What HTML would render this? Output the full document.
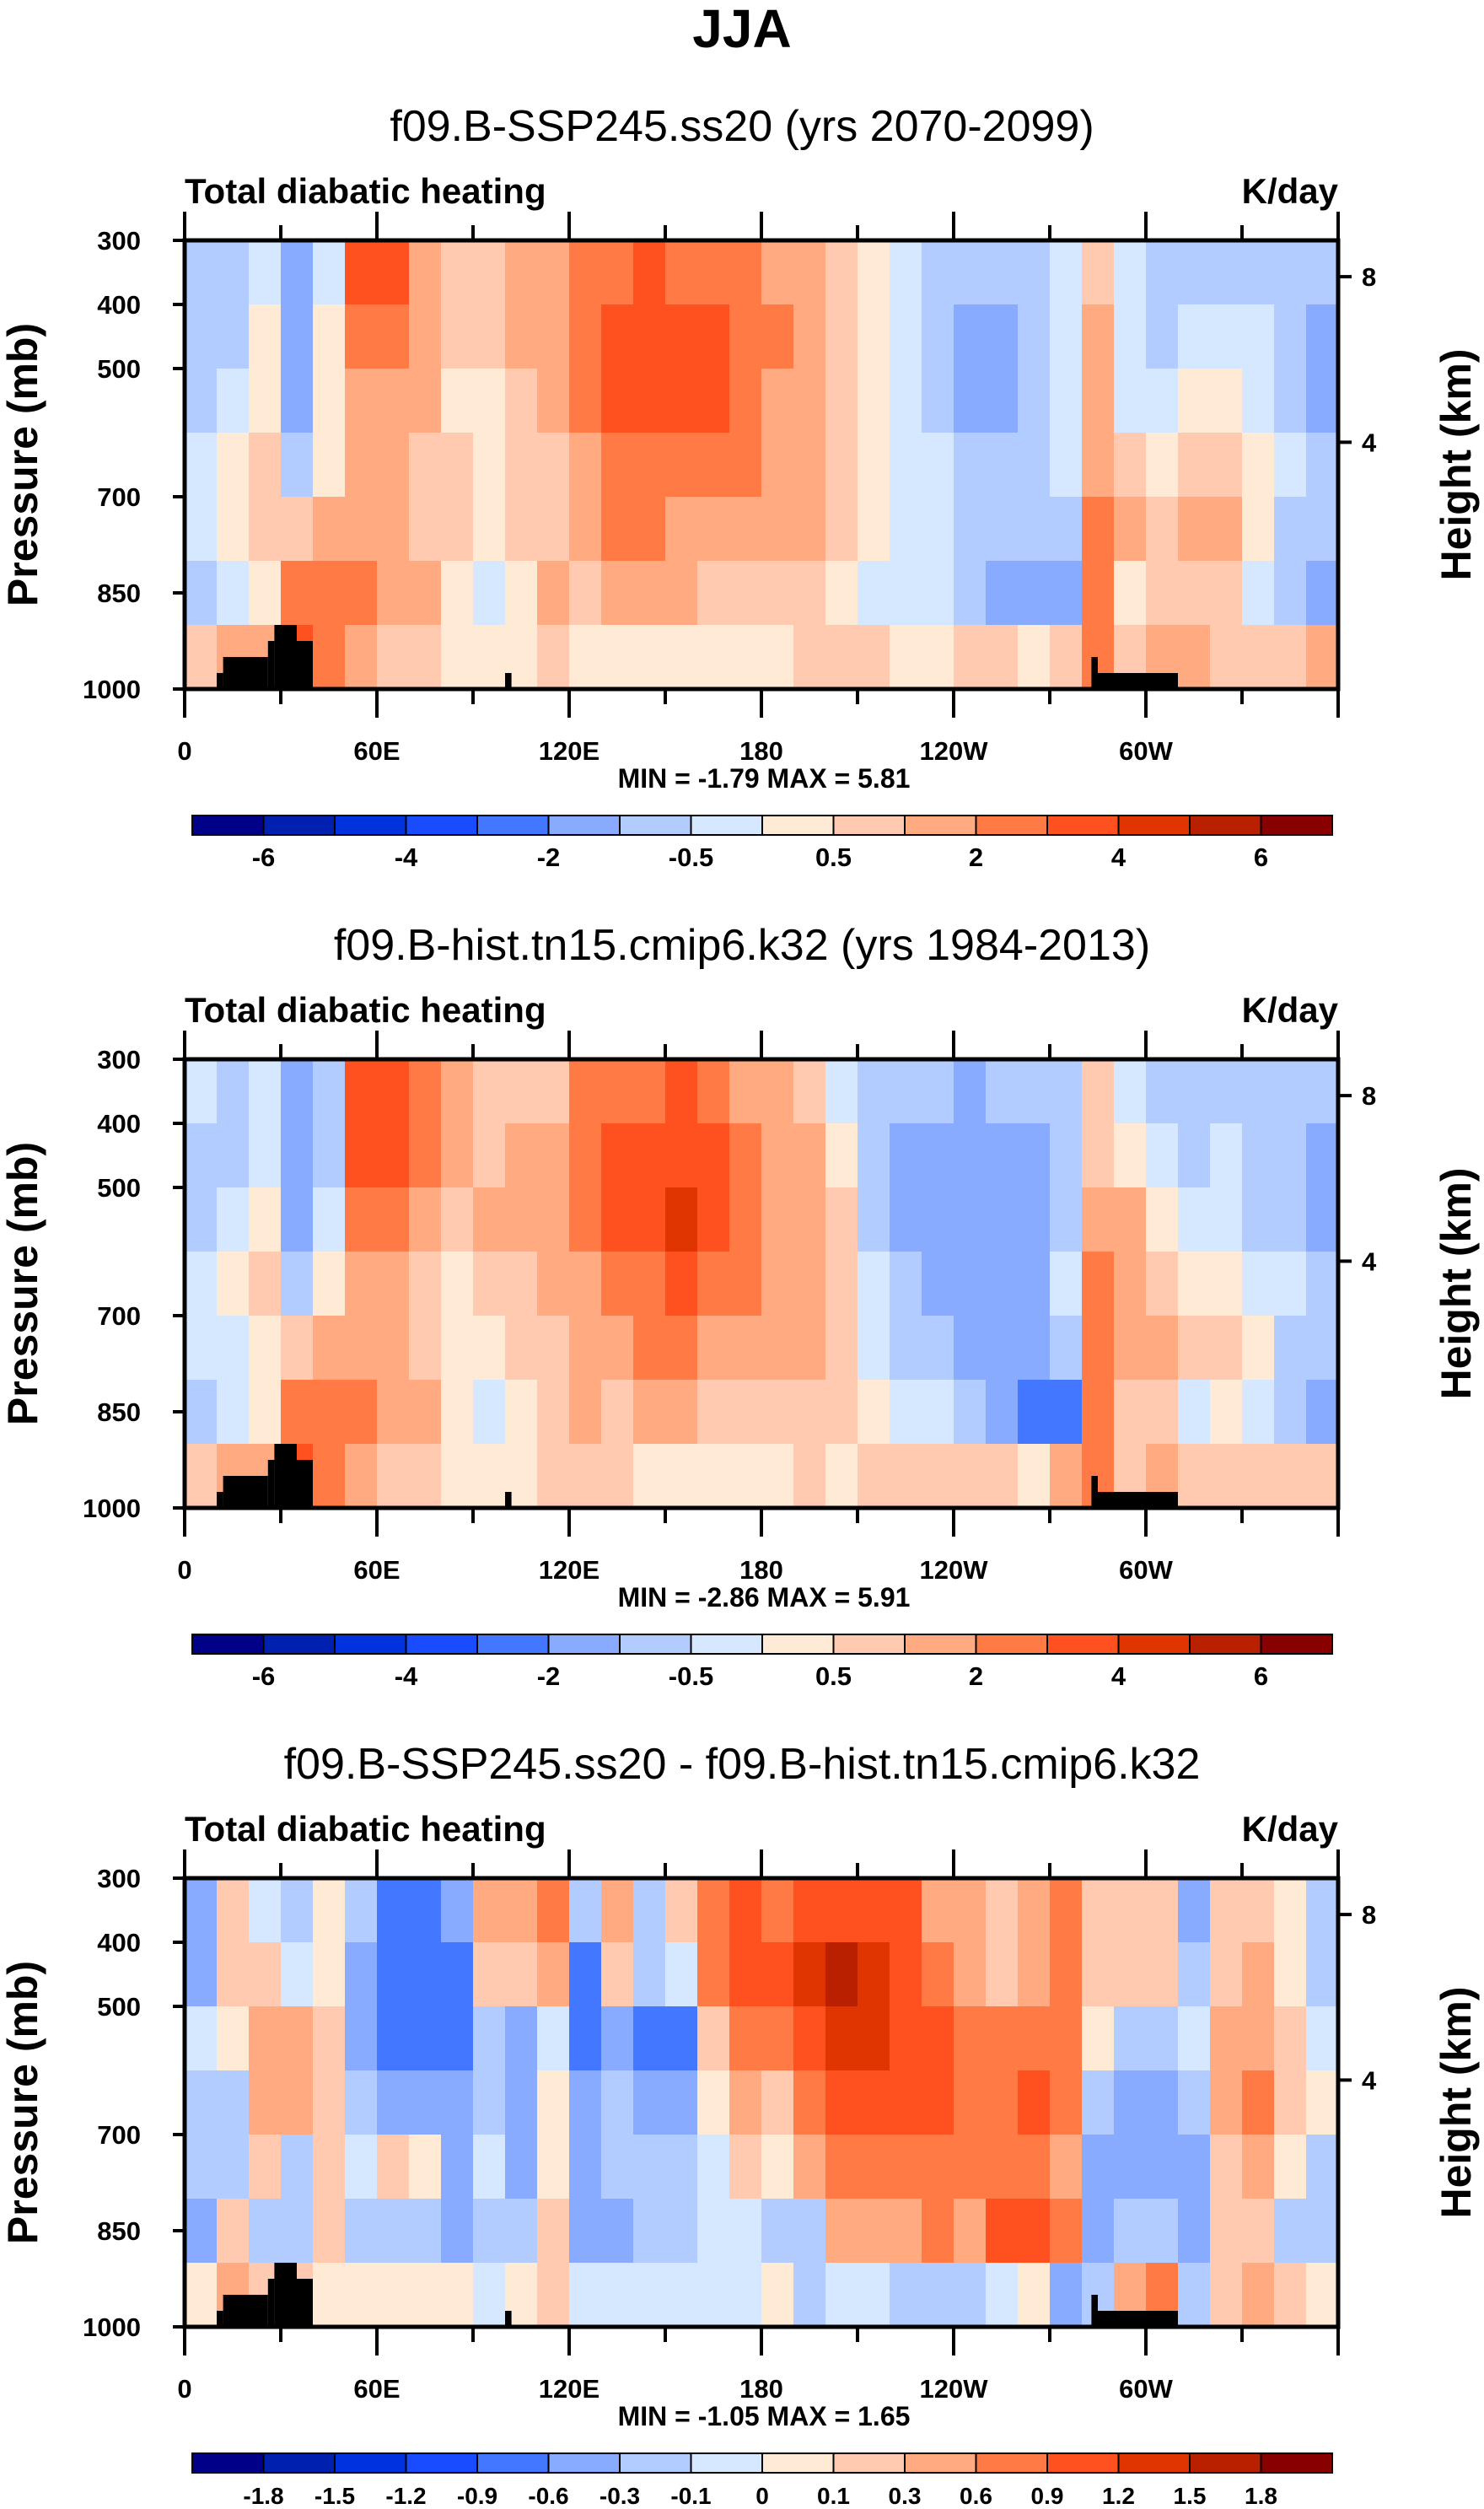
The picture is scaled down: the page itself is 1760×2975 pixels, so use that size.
<!DOCTYPE html>
<html><head><meta charset="utf-8">
<style>
html,body{margin:0;padding:0;background:#fff;}
svg{display:block;font-family:"Liberation Sans",sans-serif;}
</style></head>
<body>
<svg id="fig" width="1760" height="2975" viewBox="0 0 1760 2975" xmlns="http://www.w3.org/2000/svg">
<text x="880" y="56" text-anchor="middle" font-size="64" font-weight="bold">JJA</text>
</svg>
<script>
// ---- data: columns = 10-degree longitude bands (0..360), rows = 100 mb bands (300-400 ... 900-1000)
const lonBands = [5,15,25,35,45,55,65,75,85,95,105,115,125,135,145,155,165,175,185,195,205,215,225,235,245,255,265,275,285,295,305,315,325,335,345,355];
const presBands = [350,450,550,650,750,850,950];
const panelTitles = ["f09.B-SSP245.ss20 (yrs 2070-2099)","f09.B-hist.tn15.cmip6.k32 (yrs 1984-2013)","f09.B-SSP245.ss20 - f09.B-hist.tn15.cmip6.k32"];
const minMax = [["-1.79","5.81"],["-2.86","5.91"],["-1.05","1.65"]];
const xTickLabels = ["0","60E","120E","180","120W","60W"];
const pTicks = [300,400,500,700,850,1000];
const hTicks = [8,4];
const levelsA = [-6,-5,-4,-3,-2,-1,-0.5,0,0.5,1,2,3,4,5,6];
const levelsB = [-1.8,-1.5,-1.2,-0.9,-0.6,-0.3,-0.1,0,0.1,0.3,0.6,0.9,1.2,1.5,1.8];
const cbLabelsA = ["","-6","","-4","","-2","","-0.5","","0.5","","2","","4","","6"];
const cbLabelsB = ["","-1.8","-1.5","-1.2","-0.9","-0.6","-0.3","-0.1","0","0.1","0.3","0.6","0.9","1.2","1.5","1.8"];
const palette = ["#000088","#0021b0","#0033dd","#1a4cff","#4477ff","#88aaff","#b3ccff","#d6e8ff","#ffead6","#ffcab0","#ffaa80","#ff7a44","#ff5020","#e03500","#b82000","#880000"];
const field1 = [
[-0.7,-1,-0.7,-0.3,-0.3,-1,0.7],[-0.7,-0.7,-0.3,0.3,0.3,-0.3,1.5],[-0.3,0.3,0.3,0.7,0.7,0.3,1.5],[-1.5,-1.5,-1.5,-1,0.7,2.5,3],
[-0.3,0.3,0.3,0.3,1.5,2.5,2],[3.5,2.5,1.5,1.5,1.5,2.5,1.5],[3.5,2.5,1.5,1.5,1.5,1.5,0.7],[1.5,1.5,1.5,0.7,0.7,1.5,0.7],
[0.7,0.7,0.3,0.7,0.7,0.3,0.3],[0.7,0.7,0.3,0.3,0.3,-0.3,0.3],[1.5,1.5,0.7,0.7,0.7,0.3,0.3],[1.5,1.5,1.5,0.7,0.7,1.5,0.7],
[2.5,2.5,2.5,1.5,1.5,0.7,0.3],[2.5,3.5,3.5,2.5,2.5,1.5,0.3],[3.5,3.5,3.5,2.5,2.5,1.5,0.3],[2.5,3.5,3.5,2.5,1.5,1.5,0.3],
[2.5,3.5,3.5,2.5,1.5,0.7,0.3],[2.5,2.5,2.5,2.5,1.5,0.7,0.3],[1.5,2.5,1.5,1.5,1.5,0.7,0.3],[1.5,1.5,1.5,1.5,1.5,0.7,0.7],
[0.7,0.7,0.7,0.7,0.7,0.3,0.7],[0.3,0.3,0.3,0.3,0.3,-0.3,0.7],[-0.3,-0.3,-0.3,-0.3,-0.3,-0.3,0.3],[-0.7,-0.7,-0.7,-0.3,-0.3,-0.3,0.3],
[-0.7,-1.5,-1.5,-0.7,-0.7,-0.7,0.7],[-0.7,-1.5,-1.5,-0.7,-0.7,-1.5,0.7],[-0.7,-0.7,-0.7,-0.7,-0.7,-1.5,0.3],[-0.3,-0.3,-0.3,-0.3,-0.7,-1.5,0.7],
[0.7,1.5,1.5,1.5,2.5,2.5,2.5],[-0.3,-0.3,-0.3,0.7,1.5,0.3,0.7],[-0.7,-0.7,-0.3,0.3,0.7,0.7,1.5],[-0.7,-0.3,0.3,0.7,1.5,0.7,1.5],
[-0.7,-0.3,0.3,0.7,1.5,0.7,0.7],[-0.7,-0.3,-0.3,0.3,0.3,-0.3,0.7],[-0.7,-0.7,-0.7,-0.3,-0.7,-0.7,0.7],[-0.7,-1.5,-1.5,-0.7,-0.7,-1.5,1.5]];
const field2 = [
[-0.3,-0.7,-0.7,-0.3,-0.3,-0.7,0.7],[-0.7,-0.7,-0.3,0.3,-0.3,-0.3,1.5],[-0.3,-0.3,0.3,0.7,0.3,0.3,1.5],[-1.5,-1.5,-1.5,-0.7,0.7,2.5,3],
[-0.7,-0.7,-0.3,0.3,1.5,2.5,2],[3.5,3.5,2.5,1.5,1.5,2.5,1.5],[3.5,3.5,2.5,1.5,1.5,1.5,0.7],[2.5,2.5,1.5,0.7,0.7,1.5,0.7],
[1.5,1.5,0.7,0.3,0.3,0.3,0.3],[0.7,0.7,1.5,0.7,0.3,-0.3,0.3],[0.7,1.5,1.5,0.7,0.7,0.3,0.3],[0.7,1.5,1.5,1.5,0.7,0.7,0.7],
[2.5,2.5,2.5,1.5,1.5,1.5,0.7],[2.5,3.5,3.5,2.5,1.5,0.7,0.7],[2.5,3.5,3.5,2.5,2.5,1.5,0.3],[3.5,3.5,4.5,3.5,2.5,1.5,0.3],
[2.5,3.5,3.5,2.5,1.5,0.7,0.3],[1.5,2.5,2.5,2.5,1.5,0.7,0.3],[1.5,1.5,1.5,1.5,1.5,0.7,0.3],[0.7,1.5,1.5,1.5,1.5,0.7,0.7],
[-0.3,0.3,0.7,0.7,0.7,0.7,0.3],[-0.7,-0.7,-0.7,-0.3,-0.3,0.3,0.7],[-0.7,-1.5,-1.5,-0.7,-0.7,-0.3,0.7],[-0.7,-1.5,-1.5,-1.5,-0.7,-0.3,0.7],
[-1.5,-1.5,-1.5,-1.5,-1.5,-0.7,0.7],[-0.7,-1.5,-1.5,-1.5,-1.5,-1.5,0.7],[-0.7,-1.5,-1.5,-1.5,-1.5,-2.5,0.3],[-0.7,-0.7,-0.7,-0.3,-0.7,-2.5,1.5],
[0.7,0.7,1.5,2.5,2.5,2.5,2.5],[-0.3,0.3,1.5,1.5,1.5,0.7,0.7],[-0.7,-0.3,0.3,0.7,1.5,0.7,1.5],[-0.7,-0.7,-0.3,0.3,0.7,-0.3,0.7],
[-0.7,-0.3,-0.3,0.3,0.7,0.3,0.7],[-0.7,-0.7,-0.7,-0.3,0.3,-0.3,0.7],[-0.7,-0.7,-0.7,-0.3,-0.7,-0.7,0.7],[-0.7,-1.5,-1.5,-0.7,-0.7,-1.5,0.7]];
const field3 = [
[-0.4,-0.4,-0.05,-0.2,-0.2,-0.4,0.05],[0.2,0.2,0.05,-0.2,-0.2,0.2,0.4],[-0.05,0.2,0.4,0.4,0.2,-0.2,0.2],[-0.2,-0.05,0.4,0.4,-0.2,-0.2,0.2],
[0.05,0.05,0.2,0.2,0.2,0.2,0.05],[-0.2,-0.4,-0.4,-0.2,-0.05,-0.2,0.05],[-0.7,-0.7,-0.7,-0.4,0.2,-0.2,0.05],[-0.7,-0.7,-0.7,-0.4,0.05,-0.2,0.05],
[-0.4,-0.7,-0.7,-0.4,-0.4,-0.4,0.05],[0.4,0.2,-0.2,-0.2,-0.05,-0.2,-0.05],[0.4,0.2,-0.4,-0.4,-0.4,-0.2,0.05],[0.7,0.4,-0.05,0.05,0.05,0.2,0.2],
[-0.2,-0.7,-0.7,-0.4,-0.4,-0.4,-0.05],[0.4,0.2,-0.4,-0.2,-0.2,-0.4,-0.05],[-0.2,-0.2,-0.7,-0.4,-0.2,-0.2,-0.05],[0.2,-0.05,-0.7,-0.4,-0.2,-0.2,-0.05],
[0.7,0.7,0.2,0.05,-0.05,-0.05,-0.05],[1.0,1.0,0.7,0.4,0.2,-0.05,-0.05],[0.7,1.0,0.7,0.2,0.05,-0.2,0.05],[1.0,1.3,1.0,0.7,0.4,-0.2,-0.2],
[1.0,1.5,1.3,1.0,0.7,0.4,-0.05],[1.0,1.3,1.3,1.0,0.7,0.4,-0.05],[1.0,1.0,1.0,1.0,0.7,0.4,-0.2],[0.4,0.7,1.0,1.0,0.7,0.7,-0.2],
[0.4,0.4,0.7,0.7,0.7,0.4,-0.2],[0.2,0.2,0.7,0.7,0.7,1.0,-0.05],[0.4,0.4,0.7,1.0,0.7,1.0,0.05],[0.7,0.7,0.7,0.7,0.4,0.7,-0.4],
[0.2,0.2,0.05,-0.2,-0.4,-0.4,-0.2],[0.2,0.2,-0.2,-0.4,-0.4,-0.2,0.4],[0.2,0.2,-0.2,-0.4,-0.4,-0.2,0.7],[-0.4,-0.2,-0.05,-0.2,-0.4,-0.4,-0.2],
[0.2,0.2,0.4,0.4,0.2,0.2,0.2],[0.2,0.4,0.4,0.65,0.4,0.2,0.4],[0.05,0.05,0.2,0.2,0.05,-0.2,0.2],[-0.2,-0.2,-0.05,0.05,-0.2,-0.2,0.05]];
// topography: [lonStart, lonEnd, topPressure]
const topoLon0 = [10,12,26,28,35,100,283,285];
const topoLon1 = [12,26,28,35,40,102,285,310];
const topoTop  = [975,950,925,900,925,975,950,975];

const fields=[field1,field2,field3];
const NS="http://www.w3.org/2000/svg";
const svg=document.getElementById('fig');
const L=219,R=1587,PANEL_DY=971,T0=285,H=532;
function mk(tag,attrs,parent){const e=document.createElementNS(NS,tag);for(const k in attrs)e.setAttribute(k,attrs[k]);(parent||svg).appendChild(e);return e;}
function xOf(lon){return L+lon/360*(R-L);}
function colorFor(v,levels){let i=0;while(i<levels.length&&v>=levels[i])i++;return palette[i];}

for(let p=0;p<3;p++){
  const top=T0+p*PANEL_DY, bot=top+H;
  const yOf=pr=>top+(pr-300)/700*H;
  const levels=p<2?levelsA:levelsB;
  const g=mk('g',{});
  
  
  const st=mk('text',{x:880,y:top-118,'text-anchor':'middle','font-size':52},g);
  
  
  st.textContent=panelTitles[p];
  const lt=mk('text',{x:L,y:top-44,'font-size':42,'font-weight':'bold'},g);
  
  
  lt.textContent='Total diabatic heating';
  const ut=mk('text',{x:R,y:top-44,'font-size':42,'font-weight':'bold','text-anchor':'end'},g);
  
  
  ut.textContent='K/day';
  // cells
  const f=fields[p];
  const dx=(R-L)/lonBands.length;
  for(let c=0;c<lonBands.length;c++){
    for(let r=0;r<presBands.length;r++){
      const x0=xOf(lonBands[c]-5), y0=yOf(presBands[r]-50);
      const rc=mk('rect',{x:x0,y:y0,width:dx+0.6,height:H/7+0.6,fill:colorFor(f[c][r],levels)},g);
      
      
    }
  }
  // topography
  for(let i=0;i<topoLon0.length;i++){
    const tr=mk('rect',{x:xOf(topoLon0[i]),y:yOf(topoTop[i]),width:xOf(topoLon1[i])-xOf(topoLon0[i]),height:bot-yOf(topoTop[i]),fill:'#000'},g);
    
    
  }
  const fr=mk('rect',{x:L,y:top,width:R-L,height:H,fill:'none',stroke:'#000','stroke-width':5},g);
  
  
  // x ticks
  for(let lon=0;lon<=360;lon+=30){
    const major=lon%60===0, len=major?34:18, x=xOf(lon);
    mk('line',{x1:x,y1:bot,x2:x,y2:bot+len,stroke:'#000','stroke-width':4},g);
    mk('line',{x1:x,y1:top,x2:x,y2:top-len,stroke:'#000','stroke-width':4},g);
  }
  xTickLabels.forEach((lab,i)=>{
    const t=mk('text',{x:xOf(i*60),y:bot+84,'text-anchor':'middle','font-size':31,'font-weight':'bold'},g);
    
    
    t.textContent=lab;
  });
  const mm=mk('text',{x:906,y:bot+117,'text-anchor':'middle','font-size':32,'font-weight':'bold'},g);
  
  
  mm.setAttribute('xml:space','preserve');
  mm.textContent='MIN =  '+minMax[p][0]+'  MAX =   '+minMax[p][1];
  // y ticks
  pTicks.forEach(pr=>{
    const y=yOf(pr);
    mk('line',{x1:L-14,y1:y,x2:L,y2:y,stroke:'#000','stroke-width':4},g);
    const t=mk('text',{x:L-52,y:y+11,'text-anchor':'end','font-size':31,'font-weight':'bold'},g);
    
    
    t.textContent=pr;
  });
  const hFrac=[0.081,0.45];
  hTicks.forEach((h,i)=>{
    const y=top+hFrac[i]*H;
    mk('line',{x1:R,y1:y,x2:R+16,y2:y,stroke:'#000','stroke-width':4},g);
    const t=mk('text',{x:R+28,y:y+11,'font-size':31,'font-weight':'bold'},g);
    
    
    t.textContent=h;
  });
  const yt=mk('text',{x:0,y:0,'text-anchor':'middle','font-size':50,'font-weight':'bold',transform:`translate(44,${top+H/2}) rotate(-90)`},g);
  
  
  yt.textContent='Pressure (mb)';
  const ht=mk('text',{x:0,y:0,'text-anchor':'middle','font-size':50,'font-weight':'bold',transform:`translate(1744,${top+H/2}) rotate(-90)`},g);
  
  
  ht.textContent='Height (km)';
  // colorbar
  const cbL=228,cbR=1580,cbT=top+682,cbH=23,bw=(cbR-cbL)/16;
  const labs=p<2?cbLabelsA:cbLabelsB;
  for(let i=0;i<16;i++){
    const b=mk('rect',{x:cbL+i*bw,y:cbT,width:bw,height:cbH,fill:palette[i],stroke:'#000','stroke-width':2},g);
    
    
    if(labs[i]){
      const t=mk('text',{x:cbL+i*bw,y:cbT+60,'text-anchor':'middle','font-size':p<2?31:28,'font-weight':'bold'},g);
      
      
      t.textContent=labs[i];
    }
  }
}
</script>
</body></html>
